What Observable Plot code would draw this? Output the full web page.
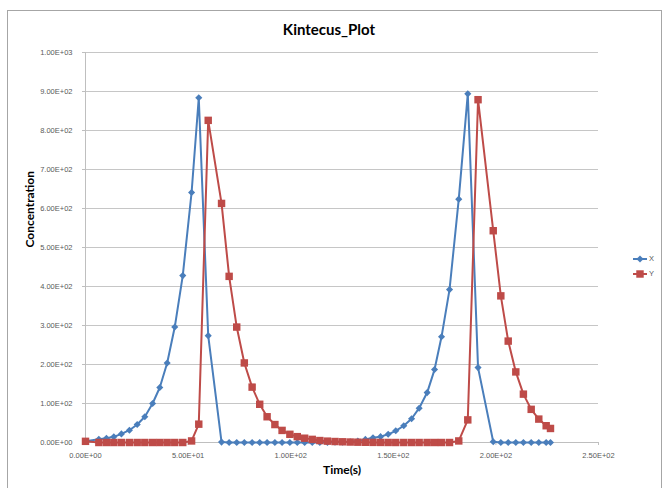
<!DOCTYPE html>
<html>
<head>
<meta charset="utf-8">
<script src="https://cdn.jsdelivr.net/npm/d3@7"></script>
<script src="https://cdn.jsdelivr.net/npm/@observablehq/plot@0.6"></script>
<style>
  html, body { margin: 0; padding: 0; background: #fff; overflow: hidden; }
  #wrap { position: relative; width: 665px; height: 488px; overflow: hidden; }
  #frame { position: absolute; left: 7px; top: 10px; width: 655px; height: 490px; border: 1px solid #a6a6a6; box-sizing: border-box; }
  #title { position: absolute; left: 0; width: 658px; top: 20px; text-align: center; font-family: Lato, "Liberation Sans", sans-serif; font-weight: bold; font-size: 15px; color: #000; }
  #chart { position: absolute; left: 0; top: 40px; }
  #legend { position: absolute; left: 626px; top: 250px; }
</style>
</head>
<body>
<div id="wrap">
  <div id="frame"></div>
  <div id="title">Kintecus_Plot</div>
  <div id="chart"></div>
  <div id="legend"></div>
</div>
<script>
// Time (s)
const time = [0, 6.5, 10.2, 13.8, 17.5, 21.4, 25.2, 28.9, 32.7, 36.2, 39.8, 43.5, 47.4, 51.7, 55.2, 59.8,
  66.3, 70.0, 73.7, 77.4, 81.2, 84.9, 88.5, 92.3, 95.8, 99.6, 103.2, 106.8, 110.5, 114.2, 117.9, 121.6,
  125.3, 129.0, 132.7, 136.4, 140.1, 143.8, 147.5, 151.2, 155.1, 158.9, 162.6, 166.5, 170.1, 173.5, 177.4,
  181.9, 186.3, 191.3, 198.7, 202.4, 206.0, 209.7, 213.4, 217.2, 220.9, 224.5, 226.6];
// Series X
const seriesX = [3, 8.5, 11, 14.5, 22, 31.5, 46, 66, 100, 141, 204, 296, 428, 641, 884, 274,
  1, 0, 0, 0, 0, 0, 0, 0, 0, 0, 0, 0, 0, 0, 0, 0.5,
  1, 2, 4, 8, 12, 15, 21, 30, 43, 61, 88, 128, 187, 271, 392,
  624, 894, 192, 2, 0, 0, 0, 0, 0, 0, 0, 0];
// Series Y
const seriesY = [3, 0, 0, 0, 0, 0, 0, 0, 0, 0, 0, 0, 0, 4, 47, 826,
  613, 426, 296, 204, 142, 98, 66, 46, 31, 21, 15, 11, 8, 5, 3.5, 2.5,
  1.8, 1.2, 0.8, 0.5, 0.3, 0.2, 0.1, 0, 0, 0, 0, 0, 0, 0, 0,
  4, 58, 879, 543, 376, 260, 181, 124, 85, 60, 43, 36];
const seriesNames = ["X", "Y"];
const seriesColors = ["#4a7ebb", "#be4b48"];
const xTicks = [0, 50, 100, 150, 200, 250];
const yTicks = [0, 100, 200, 300, 400, 500, 600, 700, 800, 900, 1000];

const data = time.map((t, i) => ({t, X: seriesX[i], Y: seriesY[i]}));

function fmt(v) {
  if (v === 0) return "0.00E+00";
  const e = Math.floor(Math.log10(Math.abs(v)));
  const m = v / Math.pow(10, e);
  return m.toFixed(2) + "E" + (e < 0 ? "-" : "+") + String(Math.abs(e)).padStart(2, "0");
}

const plot = Plot.plot({
  width: 665,
  height: 448,
  marginLeft: 85,
  marginRight: 67,
  marginTop: 12,
  marginBottom: 46,
  style: {fontFamily: "'Liberation Sans', sans-serif", fontSize: "7.5px", color: "#595959", background: "transparent"},
  x: {domain: [0, 250], label: null},
  y: {domain: [0, 1000], label: null},
  marks: [
    Plot.gridY(yTicks, {stroke: "#c6c6c6", strokeOpacity: 1}),
    Plot.axisY(yTicks, {tickFormat: fmt, tickSize: 3, tickPadding: 10, stroke: "#bfbfbf", fill: "#595959", label: null}),
    Plot.axisX(xTicks, {tickFormat: fmt, tickSize: 3, tickPadding: 7, stroke: "#bfbfbf", fill: "#595959", label: null}),
    Plot.ruleX([0], {stroke: "#bfbfbf"}),
    Plot.ruleY([0], {stroke: "#bfbfbf"}),
    Plot.line(data, {x: "t", y: "X", stroke: seriesColors[0], strokeWidth: 2}),
    Plot.dot(data, {x: "t", y: "X", symbol: "diamond2", r: 3.2, fill: seriesColors[0], stroke: "none"}),
    Plot.line(data, {x: "t", y: "Y", stroke: seriesColors[1], strokeWidth: 2}),
    Plot.dot(data, {x: "t", y: "Y", symbol: "square", r: 4.2, fill: seriesColors[1], stroke: "none"}),
    Plot.text(["Concentration"], {frameAnchor: "left", dx: -55, rotate: -90, fontFamily: "Lato, 'Liberation Sans', sans-serif", fontWeight: "bold", fontSize: 12, fill: "#000"}),
    Plot.text(["Time(s)"], {frameAnchor: "bottom", dy: 31, fontFamily: "Lato, 'Liberation Sans', sans-serif", fontWeight: "bold", fontSize: 12, fill: "#000"})
  ]
});
document.getElementById("chart").appendChild(plot);

// Legend
const lg = d3.select("#legend").append("svg").attr("width", 36).attr("height", 34)
  .style("font-family", "'Liberation Sans', sans-serif").style("font-size", "7.5px");
seriesNames.forEach((name, i) => {
  const g = lg.append("g").attr("transform", `translate(0,${9 + i * 15})`);
  g.append("line").attr("x1", 7).attr("x2", 21).attr("y1", 0).attr("y2", 0)
    .attr("stroke", seriesColors[i]).attr("stroke-width", 2);
  const sym = i === 0 ? d3.symbol(d3.symbolDiamond2, 3.2 * 3.2 * Math.PI) : d3.symbol(d3.symbolSquare, 4.2 * 4.2 * Math.PI);
  g.append("path").attr("d", sym()).attr("transform", "translate(14,0)").attr("fill", seriesColors[i]);
  g.append("text").attr("x", 23).attr("y", 0).attr("dy", "0.32em").attr("fill", "#595959").text(name);
});
</script>
</body>
</html>
